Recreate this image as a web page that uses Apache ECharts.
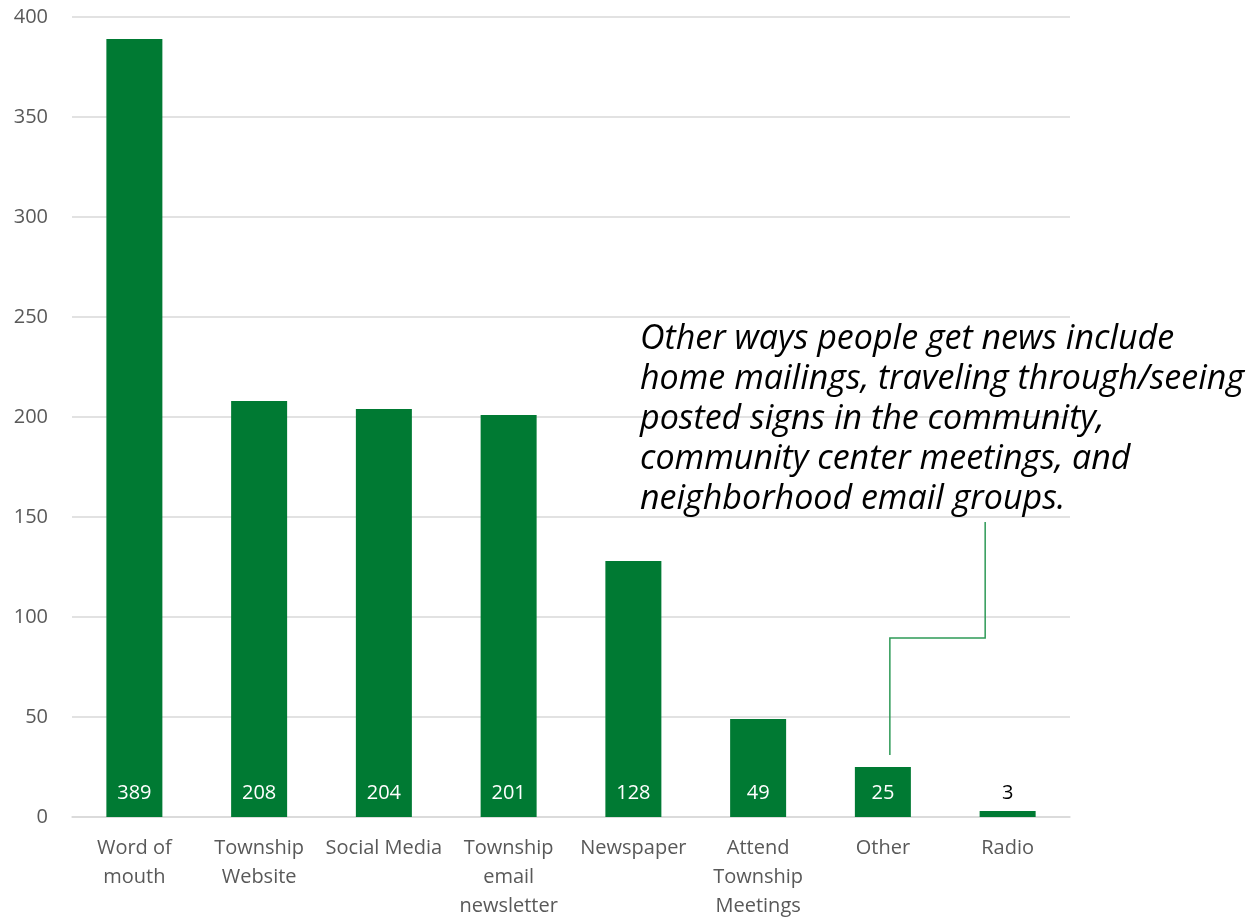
<!DOCTYPE html>
<html><head><meta charset="utf-8">
<script src="https://cdn.jsdelivr.net/npm/echarts@6/dist/echarts.min.js"></script>
<style>html,body{margin:0;padding:0;background:#fff;}#c{width:1258px;height:919px;}</style>
</head><body><div id="c"></div>
<script>
const categories = ['Word of\nmouth','Township\nWebsite','Social Media','Township\nemail\nnewsletter','Newspaper','Attend\nTownship\nMeetings','Other','Radio'];
const values = [389,208,204,201,128,49,25,3];
const yTicks = {min:0, max:400, interval:50};
const noteLines = ['Other ways people get news include','home mailings, traveling through/seeing','posted signs in the community,','community center meetings, and','neighborhood email groups.'];
const FONT = 'Open Sans';
const chart = echarts.init(document.getElementById('c'));
const data = values.map((v,i)=> i===values.length-1 ? {value:v,label:{position:'top',color:'#000',distance:8}} : v);
chart.setOption({
  animation:false,
  grid:{left:72,right:188,top:17,bottom:102,containLabel:false,outerBoundsMode:'none'},
  xAxis:{type:'category',data:categories,
    axisLine:{lineStyle:{color:'#d9d9d9',width:1.5}},axisTick:{show:false},
    axisLabel:{color:'#595959',fontSize:20,fontFamily:FONT,lineHeight:29,margin:17,interval:0}},
  yAxis:{type:'value',min:yTicks.min,max:yTicks.max,interval:yTicks.interval,
    axisLine:{show:false},axisTick:{show:false},
    splitLine:{lineStyle:{color:'#d9d9d9',width:1.5}},
    axisLabel:{color:'#595959',fontSize:20,fontFamily:FONT,margin:24}},
  series:[{type:'bar',data:data,barWidth:56,itemStyle:{color:'#007A33'},
    label:{show:true,position:'insideBottom',distance:14,color:'#fff',fontSize:20,fontFamily:FONT}}]
});
const pOther = chart.convertToPixel({seriesIndex:0},[6, 31]);
const pMid = chart.convertToPixel({seriesIndex:0},[6, 89.5]);
const pRadio = chart.convertToPixel({seriesIndex:0},[7, 147.5]);
const span = pRadio[0]-pMid[0];
const xLow = pMid[0] + span*0.056;
const xTop = pMid[0] + span*0.82;
chart.setOption({graphic:[
  {type:'polyline',shape:{points:[[xLow,pOther[1]],[xLow,pMid[1]],[xTop,pMid[1]],[xTop,pRadio[1]]]},
    style:{stroke:'#2e9a57',lineWidth:1.5,fill:null}},
  {type:'text',left:640,top:319,style:{text:noteLines.join('\n'),fontSize:34,fontStyle:'italic',fontFamily:FONT,lineHeight:40,fill:'#000'}}
]});
</script></body></html>
